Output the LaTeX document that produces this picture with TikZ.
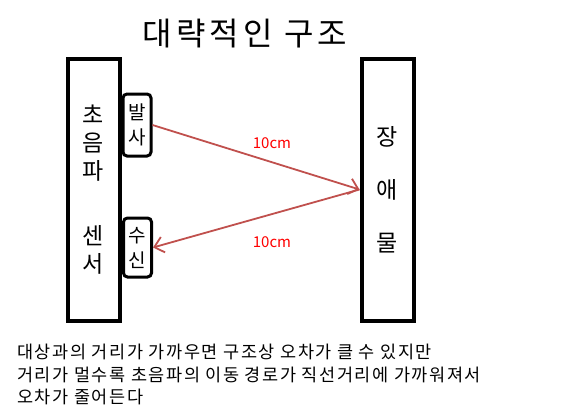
\documentclass[tikz,border=0pt]{standalone}
\usepackage{fontspec}
\setmainfont{Noto Sans CJK KR}
\usetikzlibrary{arrows.meta}

\definecolor{beamred}{HTML}{C0504D}

\begin{document}
\begin{tikzpicture}[x=1pt,y=-1pt,
    bigbox/.style={draw,line width=4pt,minimum width=52pt,minimum height=262pt,inner sep=0pt,align=center},
    smallbox/.style={draw,line width=3pt,rounded corners=4pt,minimum width=28pt,inner sep=0pt,align=center},
    beam/.style={draw=beamred,line width=1.8pt,-{Straight Barb[length=9pt,width=16pt,line width=1.8pt]}},
    dist/.style={text=red,font=\fontsize{15}{18}\selectfont}]
    \useasboundingbox (0,0) rectangle (563,418);

    % title
    \node (title) at (245,34) {\fontsize{32}{36}\selectfont\addfontfeatures{LetterSpace=13}대략적인 구조};

    % sensor and obstacle
    \node[bigbox,font=\fontsize{23}{28}\selectfont] (sensor) at (93.5,189.5)
        {초\\음\\파\\[37pt]센\\서};
    \node[bigbox,font=\fontsize{23}{53}\selectfont] (wall) at (387.5,189.5)
        {장\\애\\물};

    % emitter and receiver
    \node[smallbox,minimum height=62pt,font=\fontsize{19}{25}\selectfont] (fire) at (137,125) {발\\사};
    \node[smallbox,minimum height=59pt,font=\fontsize{19}{25}\selectfont] (recv) at (137.5,247.5) {수\\신};

    % ultrasonic path
    \draw[beam] (fire.east) -- (wall.west);
    \draw[beam] (wall.west) -- (recv.east);
    \node[dist] (go) at (272,143) {10cm};
    \node[dist] (back) at (272,242) {10cm};

    % note
    \node[anchor=north west,align=left,inner sep=0pt,
          font=\fontsize{17.5}{22.5}\selectfont\addfontfeatures{LetterSpace=9}] (note) at (17,344)
        {대상과의 거리가 가까우면 구조상 오차가 클 수 있지만\\
         거리가 멀수록 초음파의 이동 경로가 직선거리에 가까워져서\\
         오차가 줄어든다};
\end{tikzpicture}
\end{document}
